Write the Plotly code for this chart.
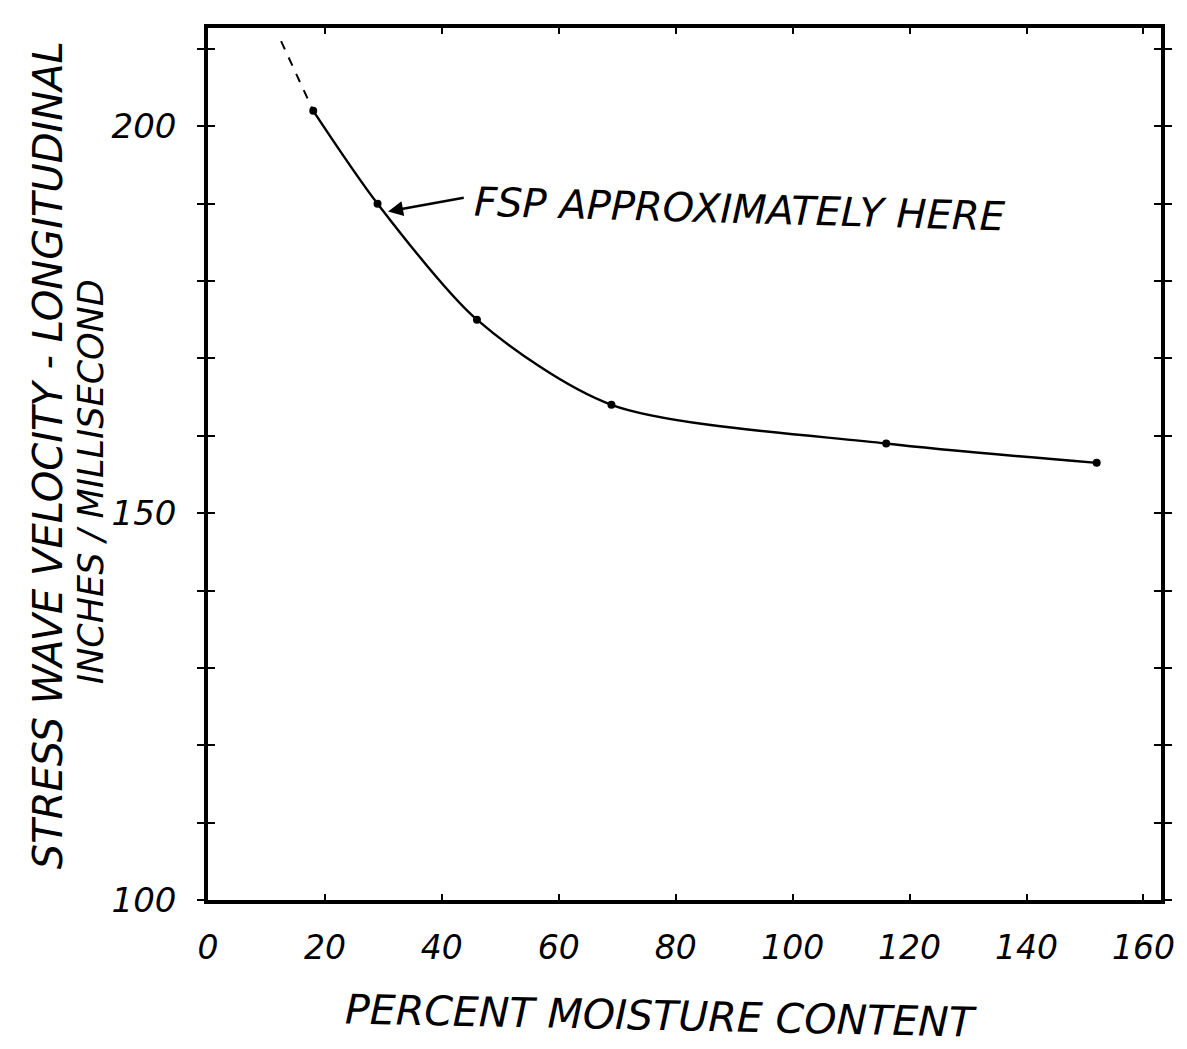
import plotly.graph_objects as go

# Data
moisture = [18, 29, 46, 69, 116, 152]
velocity = [202, 190, 175, 164, 159, 156.5]
ext_moisture = [12.5, 18]
ext_velocity = [211, 202]

x_ticks = [0, 20, 40, 60, 80, 100, 120, 140, 160]
y_ticks = [100, 110, 120, 130, 140, 150, 160, 170, 180, 190, 200, 210]
y_labels = ["100", "", "", "", "", "150", "", "", "", "", "200", ""]

FONT = "DejaVu Sans"

fig = go.Figure()
fig.add_trace(go.Scatter(
    x=ext_moisture, y=ext_velocity, mode="lines",
    line=dict(color="black", width=2, dash="dash"), showlegend=False))
fig.add_trace(go.Scatter(
    x=moisture, y=velocity, mode="lines+markers",
    line=dict(color="black", width=2.4, shape="spline", smoothing=0.8),
    marker=dict(color="black", size=8), showlegend=False))
# overlay axis for crossing y ticks (inside part)
fig.add_trace(go.Scatter(x=[moisture[0]], y=[velocity[0]], yaxis="y2",
                         mode="markers", marker=dict(size=0.1, opacity=0),
                         showlegend=False, hoverinfo="skip"))

fig.update_layout(
    width=1187, height=1049,
    margin=dict(l=208, r=17, t=28, b=149),
    paper_bgcolor="white", plot_bgcolor="white",
    font=dict(family=FONT, color="black", style="italic"),
    xaxis=dict(range=[0, 163], tickvals=x_ticks, ticktext=[str(v) for v in x_ticks],
               showgrid=False, zeroline=False, showline=True, linecolor="black",
               linewidth=3.5, mirror="ticks", ticks="inside", ticklen=6, tickwidth=2,
               tickcolor="black", tickfont=dict(size=33, family=FONT, style="italic"),
               ticklabelstandoff=16),
    yaxis=dict(range=[100, 212.7], tickvals=y_ticks, ticktext=y_labels,
               showgrid=False, zeroline=False, showline=True, linecolor="black",
               linewidth=3.5, mirror="ticks", ticks="outside", ticklen=7, tickwidth=2,
               tickcolor="black", tickfont=dict(size=34, family=FONT, style="italic"),
               ticklabelstandoff=14),
    yaxis2=dict(range=[100, 212.7], overlaying="y", tickvals=y_ticks,
                showticklabels=False, showgrid=False, zeroline=False,
                showline=False, mirror="ticks", ticks="inside", ticklen=7,
                tickwidth=2, tickcolor="black"),
    annotations=[
        dict(text="FSP APPROXIMATELY HERE", x=91, y=189.3, xref="x", yref="y",
             showarrow=False, textangle=1.6,
             font=dict(size=40, family=FONT, style="italic")),
        dict(text="", x=30.8, y=189.0, ax=44.0, ay=190.8, xref="x", yref="y",
             axref="x", ayref="y", showarrow=True, arrowhead=2, arrowsize=1.2,
             arrowwidth=2.5, arrowcolor="black"),
        dict(text="PERCENT MOISTURE CONTENT", x=0.475, y=-0.133, xref="paper",
             yref="paper", showarrow=False, textangle=1.2,
             xanchor="center", yanchor="middle",
             font=dict(size=41, family=FONT, style="italic")),
        dict(text="STRESS WAVE VELOCITY - LONGITUDINAL", x=-0.168, y=0.51,
             xref="paper", yref="paper", showarrow=False, textangle=-90,
             xanchor="center", yanchor="middle",
             font=dict(size=40, family=FONT, style="italic")),
        dict(text="INCHES / MILLISECOND", x=-0.122, y=0.48,
             xref="paper", yref="paper", showarrow=False, textangle=-90,
             xanchor="center", yanchor="middle",
             font=dict(size=35, family=FONT, style="italic")),
    ],
)

fig.write_html("out.html")
